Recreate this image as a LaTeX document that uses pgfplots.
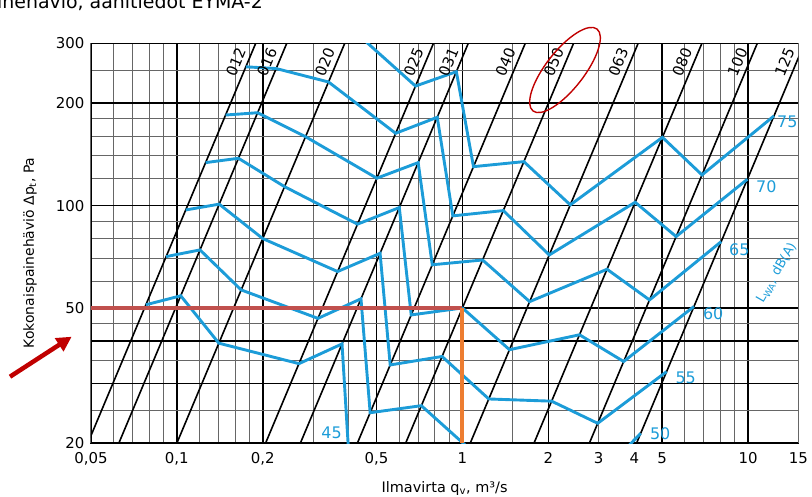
\documentclass[border=0pt]{standalone}
\usepackage{fontspec}
\setmainfont{DejaVu Sans}
\usepackage{pgfplots}
\pgfplotsset{compat=1.18}
\usetikzlibrary{arrows.meta}
\definecolor{lwa}{RGB}{28,156,216}
\definecolor{sel}{RGB}{192,80,77}
\definecolor{ora}{RGB}{237,125,49}
\definecolor{dred}{RGB}{192,0,0}
\begin{document}
\begin{tikzpicture}
\path[use as bounding box] (-90.9bp,-53.7bp) rectangle (721.1bp,443.3bp);
\node[anchor=base east, font=\fontsize{19}{22}\selectfont, inner sep=0pt] at (172.1bp,434.8bp) {Painehäviö, äänitiedot EYMA-2};
\begin{axis}[
  xmode=log, ymode=log,
  scale only axis, width=707.4bp, height=399.9bp,
  xmin=0.05, xmax=15, ymin=20, ymax=300,
  clip mode=individual,
  axis line style={black, line width=1.6bp},
  xtick={0.1,0.2,0.5,1,2,5,10},
  xticklabels={{0,1},{0,2},{0,5},1,2,5,10},
  extra x ticks={0.05,3,4,15},
  extra x tick labels={{0,05},3,4,15},
  extra x tick style={major grid style={black!60, line width=1bp}},
  minor xtick={0.06,0.07,0.08,0.09,0.12,0.14,0.16,0.18,0.3,0.4,0.6,0.7,0.8,0.9,1.5,6,7,8,9},
  ytick={30,40,50,100,200},
  yticklabels={,,50,100,200},
  extra y ticks={20,300},
  extra y tick labels={20,300},
  minor ytick={25,35,45,60,70,80,90,120,140,160,180,250},
  grid=both,
  major grid style={black, line width=1.7bp},
  minor grid style={black!60, line width=1bp},
  major tick length=0pt, minor tick length=0pt,
  tick label style={font=\fontsize{15}{17}\selectfont},
  xticklabel style={yshift=-6bp},
  yticklabel style={xshift=-3bp},
  xlabel={Ilmavirta q\textsubscript{v}, m³/s},
  ylabel={Kokonaispainehäviö Δp\textsubscript{t}, Pa},
  xlabel style={font=\fontsize{14.5}{17}\selectfont, at={(axis description cs:0.5,-0.112)}, anchor=center},
  ylabel style={font=\fontsize{14}{17}\selectfont, at={(axis description cs:-0.086,0.476)}, anchor=center},
]
% size lines (pressure drop ~ q^2)
\addplot[black, line width=1.6bp] coordinates {(0.04875,20) (0.18879,300)};
\addplot[black, line width=1.6bp] coordinates {(0.06261,20) (0.24249,300)};
\addplot[black, line width=1.6bp] coordinates {(0.09995,20) (0.38711,300)};
\addplot[black, line width=1.6bp] coordinates {(0.20438,20) (0.79155,300)};
\addplot[black, line width=1.6bp] coordinates {(0.27056,20) (1.04789,300)};
\addplot[black, line width=1.6bp] coordinates {(0.42843,20) (1.65930,300)};
\addplot[black, line width=1.6bp] coordinates {(0.63236,20) (2.44912,300)};
\addplot[black, line width=1.6bp] coordinates {(1.06436,20) (4.12228,300)};
\addplot[black, line width=1.6bp] coordinates {(1.77990,20) (6.89356,300)};
\addplot[black, line width=1.6bp] coordinates {(2.78165,20) (10.7734,300)};
\addplot[black, line width=1.6bp] coordinates {(4.06961,20) (15.7617,300)};
% sound power level curves
\addplot[lwa, line width=2.9bp] coordinates {(0.411,330) (0.685,224.7) (0.9522,247.7) (1.0931,130.2) (1.6411,134.7) (2.386,100.5) (5.0155,158.8) (6.901,123.1) (12.33,183.6)};
\addplot[lwa, line width=2.9bp] coordinates {(0.1744,256) (0.2227,253) (0.3397,231) (0.5835,163.2) (0.8162,181.9) (0.9254,93.3) (1.3905,96.7) (2.0139,71.6) (4.0255,102.3) (5.6016,81.1) (9.952,119.6)};
\addplot[lwa, line width=2.9bp] coordinates {(0.1481,184.7) (0.1918,187.6) (0.2823,159.5) (0.5015,120.4) (0.6998,133.8) (0.7841,67) (1.1763,69.2) (1.7196,52.2) (3.2088,65) (4.5197,52.8) (8.0575,78.4)};
\addplot[lwa, line width=2.9bp] coordinates {(0.1261,133.8) (0.1643,137.8) (0.2383,113.7) (0.4292,88.2) (0.6011,98.7) (0.6617,47.7) (1,50) (1.4613,37.7) (2.5702,41.7) (3.6692,34.8) (6.4668,50.5)};
\addplot[lwa, line width=2.9bp] coordinates {(0.1074,97.1) (0.1407,101) (0.1999,80) (0.3656,64) (0.5148,72.4) (0.5586,34) (0.8484,36) (1.2367,27) (2.0529,26.6) (2.9763,22.9) (5.1879,32.5)};
\addplot[lwa, line width=2.9bp] coordinates {(0.0917,70.8) (0.1205,74.1) (0.168,56.5) (0.312,46.6) (0.4413,53.2) (0.4752,24.6) (0.7182,25.8) (1.048,19.4) (3.017,16) (4.2097,21.4)};
\addplot[lwa, line width=2.9bp] coordinates {(0.0779,51.1) (0.1032,54.3) (0.1403,39.4) (0.2677,34.3) (0.3788,39.2) (0.4,18.5)};
% example reading
\addplot[sel, line width=4.5bp] coordinates {(0.05,50) (1,50)};
\addplot[ora, line width=4bp] coordinates {(1,20) (1,50)};
% size labels
\begin{scope}[every node/.style={rotate=67.27, font=\fontsize{15}{17}\selectfont, inner sep=0pt}]
\node at (axis cs:0.1609,264.5) {012};
\node at (axis cs:0.2067,264.5) {016};
\node at (axis cs:0.3299,264.5) {020};
\node at (axis cs:0.6746,264.5) {025};
\node at (axis cs:0.8931,264.5) {031};
\node at (axis cs:1.4142,264.5) {040};
\node at (axis cs:2.0874,264.5) {050};
\node at (axis cs:3.5134,264.5) {063};
\node at (axis cs:5.8753,264.5) {080};
\node at (axis cs:9.182,264.5) {100};
\node at (axis cs:13.433,264.5) {125};
\end{scope}
\begin{scope}[every node/.style={text=lwa, font=\fontsize{16}{18}\selectfont, inner sep=0pt}]
\node at (axis cs:13.73,176.8) {75};
\node at (axis cs:11.59,113.5) {70};
\node at (axis cs:9.32,74.3) {65};
\node at (axis cs:7.553,48.2) {60};
\node at (axis cs:6.05,31.1) {55};
\node at (axis cs:4.924,21.4) {50};
\node at (axis cs:0.3482,21.4) {45};
\node[rotate=60, font=\fontsize{13}{15}\selectfont] at (axis cs:12.6,63.5) {L\textsubscript{WA}, dB(A)};
\end{scope}
\end{axis}
\draw[dred, line width=1.4bp, rotate around={52:(474.1bp,373.3bp)}] (474.1bp,373.3bp) ellipse [x radius=52bp, y radius=19bp];
\draw[dred, line width=4.5bp, -{Triangle[length=15bp,width=15bp]}] (-80.9bp,66.6bp) -- (-19.2bp,106.6bp);
\end{tikzpicture}
\end{document}
